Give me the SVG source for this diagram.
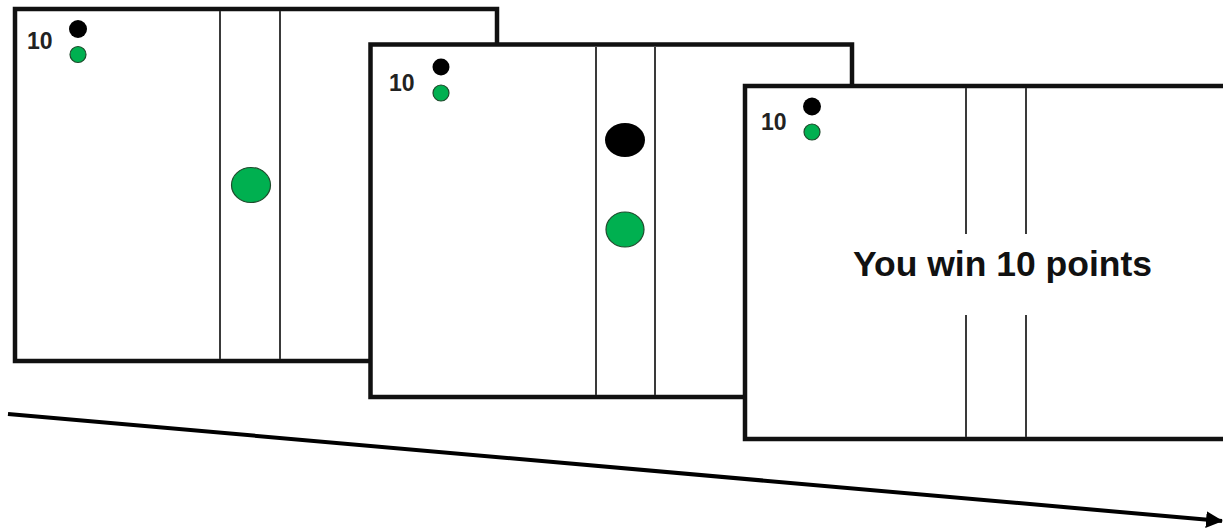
<svg xmlns="http://www.w3.org/2000/svg" width="1223" height="529" viewBox="0 0 1223 529">
  <style>
    .frame { fill: #ffffff; stroke: #111111; stroke-width: 4.5; }
    .lane { stroke: #3a3a3a; stroke-width: 2; fill: none; }
    .score { font-family: "Liberation Sans", Arial, sans-serif; font-weight: bold; font-size: 23px; fill: #222222; }
    .msg { font-family: "Liberation Sans", Arial, sans-serif; font-weight: bold; font-size: 35.5px; fill: #111111; }
    .black { fill: #000000; }
    .green { fill: #00b050; stroke: #1f4a2c; stroke-width: 1.2; }
  </style>
  <defs>
    <marker id="arrow" markerUnits="userSpaceOnUse" markerWidth="20" markerHeight="20" refX="16" refY="8.5" orient="auto">
      <path d="M0,0 L17,8.5 L0,17 Z" fill="#000000"/>
    </marker>
  </defs>
  <rect width="1223" height="529" fill="#ffffff"/>

  <g id="frame1">
    <rect class="frame" x="15" y="9" width="482" height="352"/>
    <line class="lane" x1="220" y1="11" x2="220" y2="359"/>
    <line class="lane" x1="280" y1="11" x2="280" y2="359"/>
    <text class="score" x="27" y="49">10</text>
    <circle class="black" cx="78" cy="29" r="9"/>
    <circle class="green" cx="78" cy="54.5" r="8"/>
    <ellipse class="green" cx="251" cy="185" rx="19.5" ry="17.5"/>
  </g>

  <g id="frame2">
    <rect class="frame" x="370.5" y="44.5" width="481.5" height="352.5"/>
    <line class="lane" x1="596" y1="47" x2="596" y2="395"/>
    <line class="lane" x1="655" y1="47" x2="655" y2="395"/>
    <text class="score" x="389" y="91">10</text>
    <circle class="black" cx="441" cy="67" r="8.5"/>
    <circle class="green" cx="441" cy="93" r="8"/>
    <ellipse class="black" cx="625" cy="140" rx="20" ry="17"/>
    <ellipse class="green" cx="625" cy="229.5" rx="19" ry="17.5"/>
  </g>

  <g id="frame3">
    <rect class="frame" x="745" y="86" width="484" height="353"/>
    <line class="lane" x1="966" y1="88" x2="966" y2="234"/>
    <line class="lane" x1="1026" y1="88" x2="1026" y2="234"/>
    <line class="lane" x1="966" y1="315" x2="966" y2="437"/>
    <line class="lane" x1="1026" y1="315" x2="1026" y2="437"/>
    <text class="score" x="761" y="130">10</text>
    <circle class="black" cx="812" cy="106.5" r="9"/>
    <circle class="green" cx="812" cy="132" r="8"/>
    <text class="msg" x="1002.5" y="276" text-anchor="middle">You win 10 points</text>
  </g>

  <g id="connectors">
    <line x1="8" y1="414" x2="1222" y2="521" stroke="#000000" stroke-width="4" marker-end="url(#arrow)"/>
  </g>
</svg>
